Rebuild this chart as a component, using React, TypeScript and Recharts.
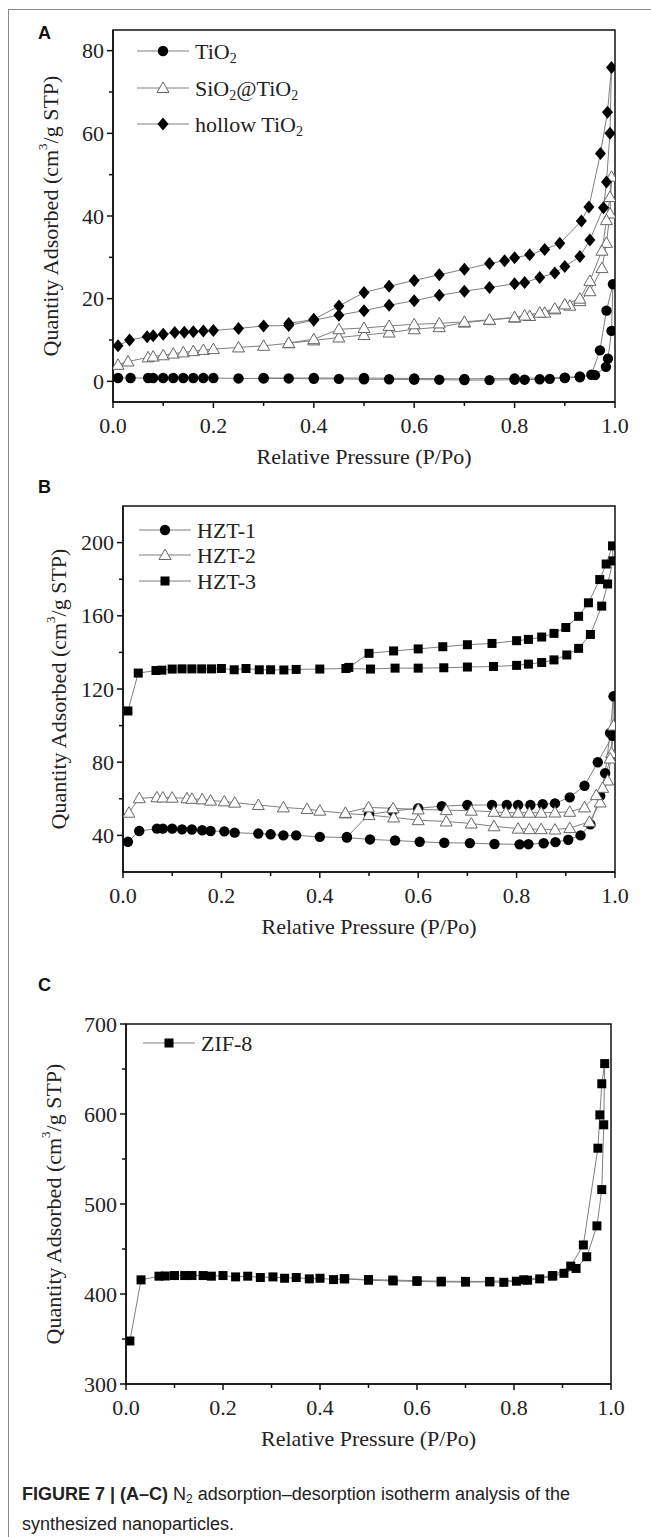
import React from "react";
import { LineChart, Line, XAxis, YAxis, ReferenceArea } from "recharts";

type Pt = [number, number];
type Marker = "circle" | "triangle" | "diamond" | "square";

// x = relative pressure (P/Po), y = quantity adsorbed (cm3/g STP)
const pressureTicks = [0, 0.1, 0.2, 0.3, 0.4, 0.5, 0.6, 0.7, 0.8, 0.9, 1.0];

// Panel A
const tio2: Pt[] = [
  [0.01, 0.8], [0.035, 0.8], [0.07, 0.8], [0.08, 0.8], [0.1, 0.8], [0.12, 0.8], [0.14, 0.8], [0.16, 0.8],
  [0.18, 0.8], [0.2, 0.8], [0.25, 0.7], [0.3, 0.7], [0.35, 0.7], [0.4, 0.6], [0.45, 0.6], [0.5, 0.5],
  [0.55, 0.5], [0.6, 0.4], [0.65, 0.4], [0.7, 0.3], [0.75, 0.3], [0.8, 0.4], [0.82, 0.4], [0.85, 0.5],
  [0.87, 0.6], [0.9, 0.8], [0.93, 1.0], [0.953, 1.6], [0.97, 7.5], [0.983, 17.1], [0.996, 23.5],
  // desorption
  [0.993, 12.2], [0.986, 5.5], [0.982, 3.5], [0.96, 1.5], [0.93, 1.2], [0.9, 0.9], [0.8, 0.7],
  [0.7, 0.6], [0.6, 0.7], [0.5, 0.8], [0.4, 0.8], [0.3, 0.8],
];
const sio2Tio2: Pt[] = [
  [0.01, 4], [0.03, 4.8], [0.07, 5.8], [0.08, 6], [0.1, 6.3], [0.12, 6.7], [0.14, 7], [0.16, 7.3],
  [0.18, 7.6], [0.2, 7.8], [0.25, 8.2], [0.3, 8.6], [0.35, 9.2], [0.4, 9.9], [0.45, 10.6], [0.5, 11.2],
  [0.55, 11.8], [0.6, 12.6], [0.65, 13.1], [0.7, 14.2], [0.75, 14.8], [0.8, 15.4], [0.83, 15.8],
  [0.86, 16.6], [0.88, 17.4], [0.91, 18.3], [0.93, 19.4], [0.95, 21.8], [0.974, 27.4], [0.983, 33.5],
  [0.99, 40.6], [0.993, 49.5],
  // desorption
  [0.99, 44.6], [0.983, 39], [0.974, 31.6], [0.95, 24.3], [0.93, 20], [0.9, 18.6], [0.88, 17.6],
  [0.85, 16.6], [0.82, 15.9], [0.8, 15.5], [0.75, 14.9], [0.7, 14.4], [0.65, 14], [0.6, 13.8],
  [0.55, 13.4], [0.5, 12.9], [0.45, 12.6], [0.4, 10.2], [0.35, 9.3],
];
const hollowTio2: Pt[] = [
  [0.01, 8.6], [0.033, 10], [0.068, 10.8], [0.08, 11], [0.1, 11.4], [0.123, 11.8], [0.142, 11.9],
  [0.16, 12], [0.18, 12.2], [0.2, 12.3], [0.25, 12.8], [0.3, 13.4], [0.35, 13.5], [0.4, 14.8],
  [0.45, 16], [0.5, 17.1], [0.55, 18.4], [0.6, 19.5], [0.65, 20.8], [0.7, 21.8], [0.75, 22.7],
  [0.8, 23.6], [0.82, 23.9], [0.85, 25.1], [0.88, 26.2], [0.9, 27.8], [0.93, 30.2], [0.95, 34.2],
  [0.977, 42], [0.983, 48.2], [0.99, 60], [0.993, 75.9],
  // desorption
  [0.985, 65.1], [0.971, 55.1], [0.948, 42.2], [0.933, 38.8], [0.89, 33.4], [0.86, 31.9],
  [0.83, 30.6], [0.8, 29.9], [0.78, 29.2], [0.75, 28.5], [0.7, 27.1], [0.65, 25.8], [0.6, 24.4],
  [0.55, 23], [0.5, 21.5], [0.45, 18.2], [0.4, 15], [0.35, 14],
];

// Panel B
const hzt1: Pt[] = [
  [0.01, 36.5], [0.033, 42.4], [0.069, 43.7], [0.081, 43.7], [0.1, 43.7], [0.12, 43.3], [0.14, 43.2],
  [0.161, 42.8], [0.178, 42.4], [0.206, 42.2], [0.227, 41.5], [0.275, 41], [0.3, 40.6], [0.326, 40],
  [0.352, 40], [0.4, 39.2], [0.455, 38.8], [0.502, 37.8], [0.553, 37.2], [0.603, 36.5], [0.653, 36],
  [0.705, 35.8], [0.755, 35.3], [0.806, 35.1], [0.824, 35.2], [0.855, 35.7], [0.879, 36.3],
  [0.905, 37.6], [0.93, 40], [0.95, 46], [0.97, 61.6], [0.98, 74], [0.99, 96], [0.997, 116],
  // desorption
  [0.995, 94.4], [0.965, 80], [0.938, 67.1], [0.908, 60.8], [0.878, 57.5], [0.853, 57], [0.828, 56.6],
  [0.803, 56.6], [0.78, 56.6], [0.75, 56.6], [0.7, 56.6], [0.648, 56], [0.6, 54.8], [0.548, 53.3],
  [0.5, 51.5], [0.455, 39.1],
];
const hzt2: Pt[] = [
  [0.012, 52.4], [0.033, 60.3], [0.069, 60.8], [0.081, 60.7], [0.1, 60.6], [0.13, 60.3], [0.14, 60],
  [0.161, 59.7], [0.178, 59], [0.206, 58.6], [0.227, 57.9], [0.275, 56.6], [0.326, 55.3], [0.374, 54.4],
  [0.4, 53.5], [0.452, 52], [0.5, 51.1], [0.55, 49.8], [0.6, 48.3], [0.657, 47.6], [0.708, 46.5],
  [0.754, 45], [0.803, 43.7], [0.826, 43.4], [0.85, 43.4], [0.878, 43.2], [0.908, 44], [0.948, 47.4],
  [0.97, 58], [0.985, 70], [0.993, 85], [0.997, 100],
  // desorption
  [0.99, 82], [0.975, 66], [0.962, 62], [0.938, 55.3], [0.908, 52.9], [0.878, 52.5], [0.85, 52.4],
  [0.826, 52.4], [0.803, 52.4], [0.778, 52.4], [0.754, 52.9], [0.708, 53.5], [0.657, 53.8],
  [0.6, 54.2], [0.549, 54.8], [0.499, 55.3], [0.452, 52.3],
];
const hzt3: Pt[] = [
  [0.01, 108], [0.031, 128.7], [0.067, 130.1], [0.079, 130.3], [0.1, 130.9], [0.12, 131], [0.14, 131],
  [0.16, 131], [0.18, 131], [0.2, 131.2], [0.226, 130.5], [0.25, 131.2], [0.277, 130.5], [0.3, 130.5],
  [0.327, 130.4], [0.352, 130.7], [0.4, 130.9], [0.453, 131.2], [0.503, 130.9], [0.553, 131.4],
  [0.6, 131.4], [0.652, 131.6], [0.7, 132], [0.753, 132.3], [0.8, 132.9], [0.824, 133.6],
  [0.851, 134.5], [0.876, 135.9], [0.902, 138.6], [0.926, 142.2], [0.95, 149.8], [0.973, 165.3],
  [0.985, 177.4], [0.996, 190], [0.995, 198.2],
  // desorption
  [0.982, 188.3], [0.969, 179.8], [0.946, 167.1], [0.926, 159.7], [0.9, 153.6], [0.876, 150.4],
  [0.851, 148.4], [0.824, 147.1], [0.8, 146.4], [0.75, 144.9], [0.7, 144.2], [0.65, 143.1],
  [0.6, 141.9], [0.55, 140.8], [0.5, 139.5], [0.459, 131.8],
];

// Panel C
const zif8: Pt[] = [
  [0.008, 347.8], [0.031, 415.7], [0.068, 419.8], [0.081, 420], [0.1, 420.5], [0.121, 420.5],
  [0.136, 420.5], [0.159, 420.5], [0.176, 419.8], [0.2, 420.5], [0.226, 419], [0.251, 419.8],
  [0.277, 418.3], [0.303, 419], [0.327, 417.5], [0.351, 418.3], [0.378, 416.8], [0.4, 417.5],
  [0.428, 416], [0.451, 416.8], [0.5, 415.3], [0.551, 414.5], [0.6, 414], [0.65, 413.4], [0.7, 413.2],
  [0.75, 413.4], [0.779, 413], [0.805, 414.2], [0.828, 415.3], [0.853, 416.8], [0.879, 419.8],
  [0.903, 423], [0.928, 428.4], [0.95, 441.4], [0.971, 475.7], [0.981, 516], [0.985, 588], [0.987, 656],
  // desorption
  [0.981, 633.6], [0.977, 599], [0.973, 562], [0.943, 454.5], [0.917, 431], [0.88, 420.5],
  [0.82, 415.8], [0.75, 414], [0.7, 414], [0.65, 414.2], [0.6, 414.8], [0.55, 415.5], [0.5, 416],
  [0.45, 417],
];

const AXIS = "#111";
const LINE = "#7f7f7f";
const SERIF = "'Liberation Serif', 'Times New Roman', serif";
const SANS = "'Liberation Sans', Arial, sans-serif";

const toRows = (pts: Pt[]) => pts.map(([p, q]) => ({ p, q }));

function MarkerShape({ kind, cx, cy }: { kind: Marker; cx: number; cy: number }) {
  switch (kind) {
    case "circle":
      return <circle cx={cx} cy={cy} r={5.2} fill="#000" />;
    case "triangle":
      return (
        <polygon
          points={`${cx},${cy - 6} ${cx + 6},${cy + 4.5} ${cx - 6},${cy + 4.5}`}
          fill="#fff"
          stroke="#666"
          strokeWidth={1}
        />
      );
    case "diamond":
      return <polygon points={`${cx},${cy - 6.5} ${cx + 5.5},${cy} ${cx},${cy + 6.5} ${cx - 5.5},${cy}`} fill="#000" />;
    default:
      return <rect x={cx - 4.5} y={cy - 4.5} width={9} height={9} fill="#000" />;
  }
}

const dotFor = (kind: Marker) => (props: any) => {
  const { cx, cy, index } = props;
  if (cx == null || cy == null) return <g key={`e${index}`} />;
  return (
    <g key={`m${index}`}>
      <MarkerShape kind={kind} cx={cx} cy={cy} />
    </g>
  );
};

const XTick = (props: any) => {
  const { x, y, payload } = props;
  const v = payload.value as number;
  const major = Math.round(v * 10) % 2 === 0;
  return (
    <g>
      <line x1={x} x2={x} y1={y} y2={y + (major ? 6 : 4)} stroke={AXIS} strokeWidth={1.5} />
      {major && (
        <text x={x} y={y + 23} textAnchor="middle" dominantBaseline="central" fontFamily={SERIF} fontSize={22} fill="#222">
          {v.toFixed(1)}
        </text>
      )}
    </g>
  );
};

const YTick = (props: any) => {
  const { x, y, payload, step, base } = props;
  const v = payload.value as number;
  const major = Math.abs(((v - base) / step) % 1) < 1e-6;
  return (
    <g>
      <line x1={x} x2={x - (major ? 6 : 4)} y1={y} y2={y} stroke={AXIS} strokeWidth={1.5} />
      {major && (
        <text x={x - 9} y={y} textAnchor="end" dominantBaseline="central" fontFamily={SERIF} fontSize={22} fill="#222">
          {v}
        </text>
      )}
    </g>
  );
};

const XTitle = ({ cx, cy }: any) => (
  <text x={cx} y={cy} textAnchor="middle" dominantBaseline="central" fontFamily={SERIF} fontSize={22} fill="#222">
    Relative Pressure (P/Po)
  </text>
);

const YTitle = ({ cx, cy }: any) => (
  <text
    x={cx}
    y={cy}
    transform={`rotate(-90 ${cx} ${cy})`}
    textAnchor="middle"
    dominantBaseline="central"
    fontFamily={SERIF}
    fontSize={22}
    fill="#222"
  >
    <tspan>Quantity Adsorbed (cm</tspan>
    <tspan fontSize={13} dy={-8}>3</tspan>
    <tspan dy={8}>/g STP)</tspan>
  </text>
);

interface SeriesDef {
  name: string;
  pts: Pt[];
  marker: Marker;
}

interface PanelProps {
  left: number;
  right: number;
  top: number;
  bottom: number;
  yDomain: [number, number];
  yTicks: number[];
  yStep: number;
  yBase: number;
  yTitleX: number;
  series: SeriesDef[];
}

function Panel({ left, right, top, bottom, yDomain, yTicks, yStep, yBase, yTitleX, series }: PanelProps) {
  const h = bottom - top;
  const padTop = 20;
  return (
    <div style={{ position: "absolute", left: 0, top: top - padTop }}>
      <LineChart width={651} height={h + padTop + 70} margin={{ top: padTop, right: 651 - right, bottom: 0, left: left - 70 }}>
        <XAxis
          dataKey="p"
          type="number"
          domain={[0, 1]}
          ticks={pressureTicks}
          interval={0}
          tick={<XTick />}
          tickLine={false}
          tickSize={0}
          tickMargin={0}
          height={70}
          allowDataOverflow
          axisLine={{ stroke: AXIS, strokeWidth: 1.5 }}
          label={<XTitle cx={(left + right) / 2} cy={padTop + h + 54} />}
        />
        <YAxis
          type="number"
          domain={yDomain}
          ticks={yTicks}
          interval={0}
          tick={<YTick step={yStep} base={yBase} />}
          tickLine={false}
          tickSize={0}
          tickMargin={0}
          width={70}
          allowDataOverflow
          axisLine={{ stroke: AXIS, strokeWidth: 1.5 }}
          label={<YTitle cx={yTitleX} cy={padTop + h / 2} />}
        />
        {series.map((s) => (
          <Line
            key={s.name}
            name={s.name}
            data={toRows(s.pts)}
            dataKey="q"
            stroke={LINE}
            strokeWidth={1}
            dot={dotFor(s.marker)}
            activeDot={false}
            isAnimationActive={false}
          />
        ))}
        <ReferenceArea x1={0} x2={1} y1={yDomain[0]} y2={yDomain[1]} fill="none" stroke={AXIS} strokeWidth={1.5} />
      </LineChart>
    </div>
  );
}

// legend rows: marker plus label parts (text, subscript?)
type LabelPart = { t: string; sub?: boolean };
function LegendRow({ y, x0, kind, parts }: { y: number; x0: number; kind: Marker; parts: LabelPart[] }) {
  let shifted = false;
  return (
    <g>
      <line x1={x0} x2={x0 + 52} y1={y} y2={y} stroke={LINE} strokeWidth={1} />
      <MarkerShape kind={kind} cx={x0 + 26} cy={y} />
      <text x={x0 + 58} y={y} dominantBaseline="central" fontFamily={SERIF} fontSize={22} fill="#222">
        {parts.map((p, i) => {
          let dy = 0;
          if (p.sub && !shifted) { dy = 7; shifted = true; }
          else if (!p.sub && shifted) { dy = -7; shifted = false; }
          return (
            <tspan key={i} dy={dy} fontSize={p.sub ? 14 : 22}>
              {p.t}
            </tspan>
          );
        })}
      </text>
    </g>
  );
}

const panelLetter: React.CSSProperties = {
  position: "absolute",
  fontFamily: SANS,
  fontWeight: 700,
  fontSize: 18,
  color: "#111",
  lineHeight: "20px",
};

export default function App() {
  return (
    <div style={{ position: "absolute", left: 0, top: 0, width: 651, height: 1537, overflow: "hidden", background: "#fff" }}>
      <div
        style={{
          position: "absolute",
          left: 8,
          top: 9,
          width: 660,
          height: 1540,
          border: "1px solid #8a8a8a",
          boxSizing: "border-box",
        }}
      />
      <div style={{ ...panelLetter, left: 38, top: 23 }}>A</div>
      <div style={{ ...panelLetter, left: 38, top: 477 }}>B</div>
      <div style={{ ...panelLetter, left: 38, top: 975 }}>C</div>

      <Panel
        left={113}
        right={615}
        top={30}
        bottom={402}
        yDomain={[-5, 85]}
        yTicks={[0, 10, 20, 30, 40, 50, 60, 70, 80]}
        yStep={20}
        yBase={0}
        yTitleX={50}
        series={[
          { name: "TiO2", pts: tio2, marker: "circle" },
          { name: "SiO2@TiO2", pts: sio2Tio2, marker: "triangle" },
          { name: "hollow TiO2", pts: hollowTio2, marker: "diamond" },
        ]}
      />
      <Panel
        left={123}
        right={615}
        top={506}
        bottom={872}
        yDomain={[20, 220]}
        yTicks={[40, 60, 80, 100, 120, 140, 160, 180, 200]}
        yStep={40}
        yBase={40}
        yTitleX={58}
        series={[
          { name: "HZT-1", pts: hzt1, marker: "circle" },
          { name: "HZT-2", pts: hzt2, marker: "triangle" },
          { name: "HZT-3", pts: hzt3, marker: "square" },
        ]}
      />
      <Panel
        left={126}
        right={611}
        top={1024}
        bottom={1384}
        yDomain={[300, 700]}
        yTicks={[300, 350, 400, 450, 500, 550, 600, 650, 700]}
        yStep={100}
        yBase={300}
        yTitleX={53}
        series={[{ name: "ZIF-8", pts: zif8, marker: "square" }]}
      />

      <svg width={651} height={1537} style={{ position: "absolute", left: 0, top: 0, pointerEvents: "none" }}>
        <LegendRow y={51} x0={137} kind="circle" parts={[{ t: "TiO" }, { t: "2", sub: true }]} />
        <LegendRow y={88} x0={137} kind="triangle" parts={[{ t: "SiO" }, { t: "2", sub: true }, { t: "@TiO" }, { t: "2", sub: true }]} />
        <LegendRow y={124} x0={137} kind="diamond" parts={[{ t: "hollow TiO" }, { t: "2", sub: true }]} />
        <LegendRow y={530} x0={139} kind="circle" parts={[{ t: "HZT-1" }]} />
        <LegendRow y={555} x0={139} kind="triangle" parts={[{ t: "HZT-2" }]} />
        <LegendRow y={581} x0={139} kind="square" parts={[{ t: "HZT-3" }]} />
        <LegendRow y={1043} x0={143} kind="square" parts={[{ t: "ZIF-8" }]} />
      </svg>

      <div
        style={{
          position: "absolute",
          left: 22,
          top: 1482,
          width: 625,
          fontFamily: SANS,
          fontSize: 18,
          lineHeight: "25px",
          color: "#222",
          whiteSpace: "nowrap",
        }}
      >
        <b>FIGURE 7 | (A–C)</b> N<sub style={{ fontSize: 12, verticalAlign: "-3px" }}>2</sub> adsorption–desorption isotherm analysis of the
        <br />
        synthesized nanoparticles.
      </div>
    </div>
  );
}
